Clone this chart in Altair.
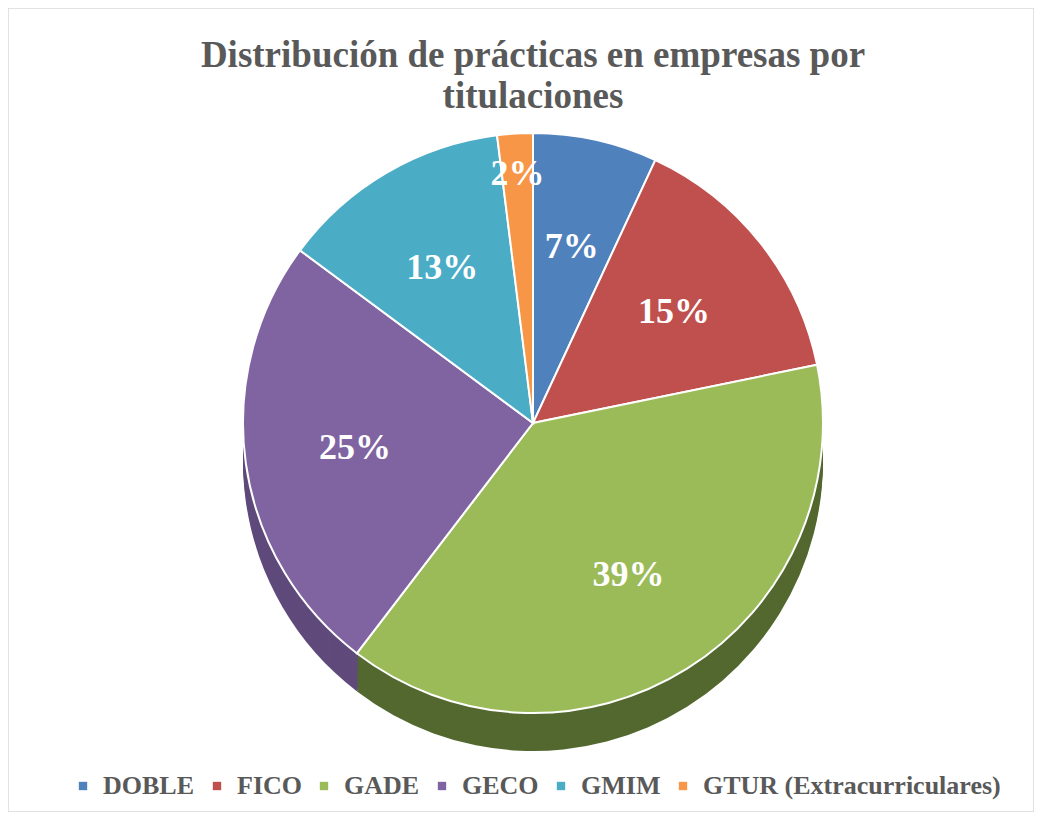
import altair as alt
import pandas as pd

categories = ["DOBLE", "FICO", "GADE", "GECO", "GMIM", "GTUR (Extracurriculares)"]
values = [7, 15, 39, 25, 13, 2]
labels = ["7%", "15%", "39%", "25%", "13%", "2%"]
colors = ["#4F81BD", "#C0504D", "#9BBB59", "#8064A2", "#4BACC6", "#F79646"]
side_colors = ["#3a5f8c", "#8e3b39", "#53682f", "#5f4a7b", "#367f93", "#b86f34"]
title_lines = ["Distribución de prácticas en empresas por", "titulaciones"]

df = pd.DataFrame({"cat": categories, "side": categories, "val": values, "label": labels,
                   "idx": list(range(len(categories)))})

W, H = 1026, 804
CX, CY, R, DEPTH = 525, 415, 290, 38
FONT = "Liberation Serif"
GRAY = "#595959"

base = alt.Chart(df).encode(
    theta=alt.Theta("val:Q", stack=True),
    order=alt.Order("idx:Q"),
)

sides = alt.layer(*[
    base.mark_arc(radius=R).encode(
        color=alt.Color("side:N", scale=alt.Scale(domain=categories, range=side_colors), legend=None),
        x=alt.value(CX), y=alt.value(CY + d),
    )
    for d in range(DEPTH, 0, -3)
])

top = base.mark_arc(radius=R, stroke="white", strokeWidth=2).encode(
    color=alt.Color(
        "cat:N",
        scale=alt.Scale(domain=categories, range=colors),
        legend=alt.Legend(
            title=None, orient="none", direction="horizontal", legendX=62, legendY=765,
            labelFont=FONT, labelFontWeight="bold", labelFontSize=26, labelColor=GRAY,
            symbolType="square", symbolSize=70, symbolStrokeWidth=0, columnPadding=9,
            labelOffset=7, labelLimit=500,
        ),
    ),
    x=alt.value(CX), y=alt.value(CY),
)

text_style = dict(font=FONT, fontWeight="bold", fontSize=36, color="white")
text = base.mark_text(radius=R * 0.62, **text_style).encode(
    text="label:N", x=alt.value(CX), y=alt.value(CY),
    opacity=alt.condition("datum.val < 5", alt.value(0), alt.value(1)),
)
text_small = base.mark_text(radius=R * 0.86, **text_style).encode(
    text="label:N", x=alt.value(CX), y=alt.value(CY),
    opacity=alt.condition("datum.val < 5", alt.value(1), alt.value(0)),
)

title1 = alt.Chart(pd.DataFrame({"t": [title_lines[0]]})).mark_text(
    font=FONT, fontWeight="bold", fontSize=37, color=GRAY
).encode(text="t:N", x=alt.value(CX), y=alt.value(48))
title2 = alt.Chart(pd.DataFrame({"t": [title_lines[1]]})).mark_text(
    font=FONT, fontWeight="bold", fontSize=37, color=GRAY
).encode(text="t:N", x=alt.value(CX), y=alt.value(89))

chart = alt.layer(sides, top, text, text_small, title1, title2).resolve_scale(
    color="independent"
).properties(
    width=W, height=H, padding=0, autosize=alt.AutoSizeParams(type="none"),
    background="white",
).configure_view(stroke="#d9d9d9", strokeWidth=1.5)

chart.save("out.html", embed_options={"renderer": "svg", "actions": False})
